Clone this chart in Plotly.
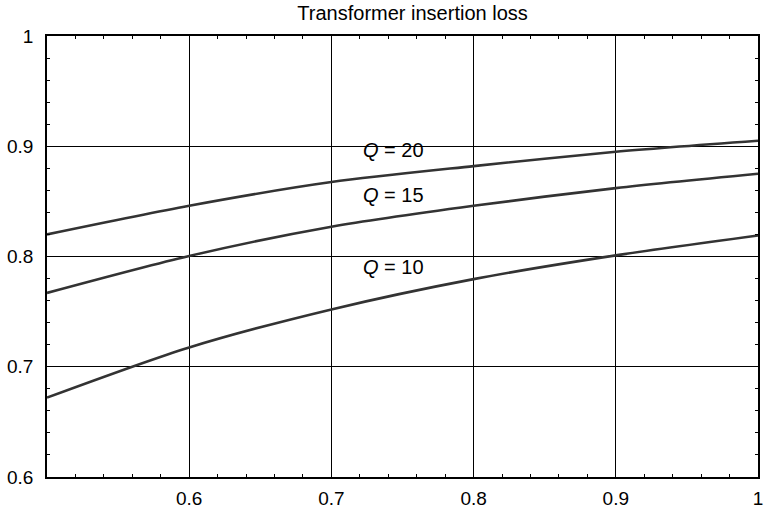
import plotly.graph_objects as go

# Coupling coefficient values at which each curve is sampled
k_values = [0.5, 0.6, 0.7, 0.8, 0.9, 1.0]

# Insertion loss for each transformer quality factor
loss_q20 = [0.820, 0.846, 0.8675, 0.882, 0.895, 0.905]
loss_q15 = [0.767, 0.8005, 0.827, 0.846, 0.862, 0.875]
loss_q10 = [0.672, 0.7175, 0.752, 0.7795, 0.801, 0.819]

curve_names = ["Q = 20", "Q = 15", "Q = 10"]
label_texts = ["<i>Q</i> = 20", "<i>Q</i> = 15", "<i>Q</i> = 10"]
label_x = [0.744, 0.744, 0.7435]
label_y = [0.897, 0.856, 0.7906]

x_tickvals = [0.6, 0.7, 0.8, 0.9, 1.0]
x_ticktext = ["0.6", "0.7", "0.8", "0.9", "1"]
y_tickvals = [0.6, 0.7, 0.8, 0.9, 1.0]
y_ticktext = ["0.6", "0.7", "0.8", "0.9", "1"]

FONT = "Liberation Sans, Arial, Helvetica, sans-serif"
LINE_COLOR = "#333333"

fig = go.Figure()
for name, ys in zip(curve_names, [loss_q20, loss_q15, loss_q10]):
    fig.add_trace(go.Scatter(
        x=k_values, y=ys, mode="lines", name=name,
        line=dict(color=LINE_COLOR, width=2.6, shape="spline", smoothing=0.8),
        showlegend=False, hoverinfo="skip",
    ))

for txt, lx, ly in zip(label_texts, label_x, label_y):
    fig.add_annotation(
        x=lx, y=ly, text=txt, showarrow=False,
        font=dict(family=FONT, size=20, color="black"),
        xanchor="center", yanchor="middle",
    )

axis_common = dict(
    showline=True, linecolor="black", linewidth=1.6, mirror="allticks",
    ticks="inside", ticklen=6, tickwidth=1, tickcolor="black",
    showgrid=True, gridcolor="black", gridwidth=1,
    zeroline=False, ticklabeloverflow="allow",
    tickfont=dict(family=FONT, size=19, color="black"),
    minor=dict(dtick=0.02, ticks="inside", ticklen=3, tickwidth=1,
               tickcolor="black", showgrid=False),
)

fig.update_xaxes(range=[0.5, 1.0], tickvals=x_tickvals, ticktext=x_ticktext,
                 ticklabelstandoff=3, **axis_common)
fig.update_yaxes(range=[0.6, 1.0], tickvals=y_tickvals, ticktext=y_ticktext,
                 ticklabelstandoff=8, **axis_common)

fig.update_layout(
    width=764, height=510,
    margin=dict(l=47, r=1, t=36, b=31),
    paper_bgcolor="white", plot_bgcolor="white",
    title=dict(text="Transformer insertion loss", x=0.54, xanchor="center",
               y=0.975, yanchor="middle",
               font=dict(family=FONT, size=20, color="black")),
)

fig.write_html("out.html")
